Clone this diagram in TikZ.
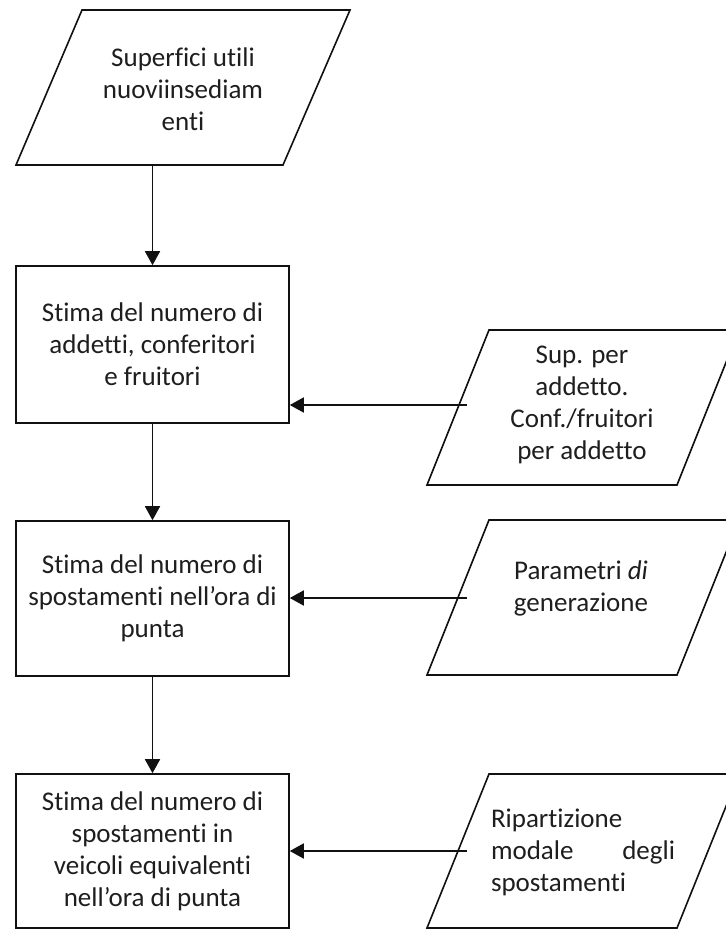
\documentclass[tikz,border=0pt]{standalone}
\usepackage{fontspec}
\setmainfont[Ligatures={TeX,NoCommon}]{Carlito}
\usetikzlibrary{arrows.meta}
\definecolor{txt}{HTML}{1E1E1E}
\definecolor{ln}{HTML}{111111}
\begin{document}
\begin{tikzpicture}[x=1pt,y=-1pt,
  lbl/.style={font=\fontsize{27}{32}\selectfont, text=txt, align=center, inner sep=0pt},
  procbox/.style={draw=ln, line width=1.6pt, minimum width=273pt, minimum height=155pt,
                  font=\fontsize{27}{32}\selectfont, text=txt, align=center, inner sep=0pt},
  para/.style={draw=ln, line width=1.6pt, line join=miter},
  arr/.style={draw=ln, line width=1.8pt, -{Triangle[width=15pt,length=14pt]}}
]
\useasboundingbox (0,0) rectangle (726,930);
\clip (0,0) rectangle (726,930);

% top input parallelogram
\draw[para] (82,10) -- (350,10) -- (283,165) -- (16,165) -- cycle;
\node[lbl] (p0) at (183,89) {Superfici utili\\nuoviinsediam\\enti};
\coordinate (p0b) at (152.5,165);

% process boxes
\node[procbox, minimum height=157pt] (b1) at (152.5,344.5) {Stima del numero di\\addetti, conferitori\\e fruitori};
\node[procbox] (b2) at (152.5,598.5) {Stima del numero di\\spostamenti nell’ora di\\punta};
\node[procbox, minimum height=154pt] (b3) at (152.5,851) {Stima del numero di\\spostamenti in\\veicoli equivalenti\\nell’ora di punta};

% right parallelograms
\draw[para] (489,330) -- (739,330) -- (677,485) -- (427,485) -- cycle;
\node[lbl] (p1) at (582,405) {Sup. per\\addetto.\\Conf./fruitori\\per addetto};
\coordinate (c1) at (467,405);

\draw[para] (489,520) -- (739,520) -- (677,675) -- (427,675) -- cycle;
\node[lbl] (p2) at (581,588) {Parametri \textit{di}\\generazione};
\coordinate (c2) at (467,598);

\draw[para] (489,774) -- (739,774) -- (677,928) -- (427,928) -- cycle;
\node[lbl, align=left, text width=184pt] (p3) at (583,852) {Ripartizione\\modale\hfill degli\\spostamenti};
\coordinate (c3) at (467,851);

% connectors
\draw[arr] (p0b) -- (b1.north);
\draw[arr] (b1.south) -- (b2.north);
\draw[arr] (b2.south) -- (b3.north);
\draw[arr] (c1) -- (c1 -| b1.east);
\draw[arr] (c2) -- (c2 -| b2.east);
\draw[arr] (c3) -- (c3 -| b3.east);
\end{tikzpicture}
\end{document}
